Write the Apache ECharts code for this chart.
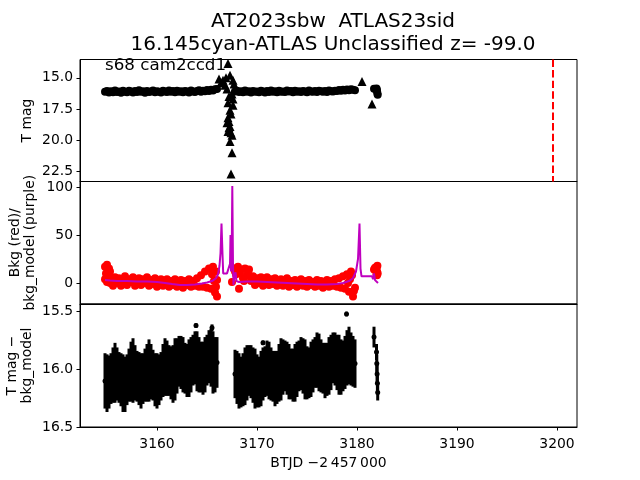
<!DOCTYPE html>
<html><head><meta charset="utf-8">
<script src="https://cdn.jsdelivr.net/npm/echarts@6/dist/echarts.min.js"></script>
<style>html,body{margin:0;padding:0;background:#fff}#c{width:640px;height:480px}</style>
</head><body><div id="c"></div>
<script>
// ---------- data ----------
const seg1Times = [3154.8,3155.0,3155.2,3155.4,3155.6,3155.8,3156.0,3156.2,3156.4,3156.6,3156.8,3157.0,3157.2,3157.4,3157.6,3157.8,3158.0,3158.2,3158.4,3158.6,3158.8,3159.0,3159.2,3159.4,3159.6,3159.8,3160.0,3160.2,3160.4,3160.6,3160.8,3161.0,3161.2,3161.4,3161.6,3161.8,3162.0,3162.2,3162.4,3162.6,3162.8,3163.0,3163.2,3163.4,3163.6,3163.8,3164.0,3164.2,3164.4,3164.6,3164.8,3165.0,3165.2,3165.4,3165.6,3165.8,3166.0];
const seg2Times = [3167.8,3168.0,3168.2,3168.4,3168.6,3168.8,3169.0,3169.2,3169.4,3169.6,3169.8,3170.0,3170.2,3170.4,3170.6,3170.8,3171.0,3171.2,3171.4,3171.6,3171.8,3172.0,3172.2,3172.4,3172.6,3172.8,3173.0,3173.2,3173.4,3173.6,3173.8,3174.0,3174.2,3174.4,3174.6,3174.8,3175.0,3175.2,3175.4,3175.6,3175.8,3176.0,3176.2,3176.4,3176.6,3176.8,3177.0,3177.2,3177.4,3177.6,3177.8,3178.0,3178.2,3178.4,3178.6,3178.8,3179.0,3179.2,3179.4,3179.6,3179.8];
const seg3Times = [3181.7,3181.95,3181.98,3182.01,3182.04,3182.07];

// top panel: T mag (circles)
const magSeg1 = [16.12,16.05,16.18,16.08,16.15,16.02,16.13,16.09,16.2,16.04,16.11,16.16,16.03,16.1,16.17,16.06,16.13,16.0,16.12,16.08,16.19,16.05,16.14,16.1,16.02,16.15,16.07,16.12,16.18,16.04,16.09,16.14,16.01,16.11,16.06,16.16,16.03,16.12,16.08,16.15,16.05,16.1,16.17,16.02,16.09,16.13,16.06,16.0,16.11,16.04,16.08,15.98,16.05,15.95,16.02,15.92,15.9];
const magSeg2 = [16.1,16.04,16.14,16.07,16.16,16.02,16.11,16.08,16.18,16.05,16.12,16.09,16.15,16.03,16.1,16.17,16.06,16.13,16.01,16.11,16.07,16.16,16.04,16.12,16.09,16.14,16.02,16.1,16.06,16.15,16.03,16.11,16.08,16.13,16.05,16.1,16.16,16.02,16.09,16.12,16.06,16.14,16.03,16.08,16.11,16.05,16.13,16.01,16.07,16.1,16.04,16.06,15.98,16.03,15.96,16.01,15.93,15.99,15.91,15.95,16.0];
const magSeg3 = [15.88,15.85,15.95,16.1,16.25,16.35];
// top panel: upper limits (triangles)
const limitTimes = [3166.2,3166.6,3166.8,3167.0,3167.1,3167.1,3167.1,3167.1,3167.2,3167.3,3167.3,3167.3,3167.3,3167.4,3167.5,3167.5,3167.5,3167.6,3167.6,3167.6,3180.5,3181.5,3167.2,3167.4,3167.2,3167.4,3167.0,3166.9,3166.4,3167.7];
const limitMags  = [15.1,15.2,15.6,18.6,13.85,17.0,18.2,19.3,19.0,14.8,17.6,18.9,20.1,22.7,16.3,19.6,21.0,15.2,16.7,17.2,15.3,17.1,16.5,17.9,18.5,19.4,15.9,15.0,15.4,15.5];
const discoveryLimit = 3199.57;

// middle panel: background (red) and background model (purple)
const bkgSeg1 = [17,1,15,6,-3,6,0,5,-3,3,7,-2,4,1,6,-3,2,5,-2,4,0,6,-3,3,-1,5,-4,2,4,-3,1,4,-4,2,-2,4,-4,1,3,-5,2,-2,4,-4,2,-3,5,-4,8,-4,12,-5,15,-6,17,-10,-14];
const bkgSeg2 = [12,16,-6,14,5,15,8,14,2,7,-2,5,0,6,-3,3,6,-2,4,-1,5,-3,2,4,-3,1,5,-4,2,-2,3,-4,1,4,-3,2,-4,3,-2,1,-4,3,-3,2,-5,1,3,-4,2,-3,4,-4,5,-5,7,-6,9,-9,12,-14,-5];
const bkgSeg3 = [14,9,17,12,18,10];
const bkgExtraTimes  = [3154.9,3155.1,3155.0,3154.8,3155.3,3155.3,3165.5,3165.7,3165.9,3165.9,3166.0,3167.5,3167.9,3168.1,3168.3,3168.7,3169.1,3179.1,3179.3,3179.5,3179.7,3181.8,3182.0];
const bkgExtraValues = [10,7,19,4,12,0,9,2,12,-4,3,1,9,17,10,2,9,0,4,8,-8,16,8];
const modelTimes  = [3154.8,3155.3,3156.0,3157.0,3158.0,3159.0,3160.0,3160.8,3161.5,3162.3,3163.0,3163.8,3164.5,3165.0,3165.5,3165.9,3166.1,3166.25,3166.35,3166.45,3166.55,3166.62,3167.0,3167.2,3167.3,3167.35,3167.4,3167.48,3167.53,3167.6,3167.65,3167.75,3167.85,3167.95,3168.2,3169.0,3170.0,3171.0,3172.0,3173.0,3174.0,3175.0,3176.0,3177.0,3178.0,3178.6,3179.2,3179.6,3179.9,3180.1,3180.25,3180.35,3180.45,3181.0,3181.5,3181.6,3181.7,3181.8,3181.95,3182.1];
const modelValues = [3,2.5,2,2,1.5,1.5,1,0,-1,-2,-2,-1.5,-0.5,0.5,2,5,9,18,31,62,30,10,10,10,20,50,12,40,101,20,-2,8,11,2,1,1.5,1.5,1,0.5,0,-0.5,-1,-1.5,-1.5,-1,0,2,5,12,25,62,15,7,7,7,4,10,3,2,0];

// bottom panel: T mag - bkg_model with errors
const diffSeg1 = [16.10,16.12,16.11,16.08,16.05,16.03,16.04,16.07,16.09,16.12,16.13,16.09,16.05,16.02,16.01,16.03,16.06,16.08,16.10,16.08,16.05,16.03,16.01,16.02,16.05,16.09,16.10,16.09,16.06,16.01,15.98,15.99,16.01,16.03,16.04,16.00,15.97,15.93,15.94,15.96,15.99,16.01,15.99,15.96,15.92,15.90,15.93,15.96,15.98,15.99,15.96,15.92,15.89,15.90,15.94,15.96,15.94];
const errSeg1  = [0.24,0.25,0.23,0.22,0.24,0.26,0.23,0.22,0.23,0.25,0.24,0.22,0.23,0.26,0.28,0.24,0.22,0.23,0.24,0.22,0.23,0.25,0.27,0.24,0.22,0.23,0.24,0.22,0.21,0.23,0.25,0.24,0.22,0.23,0.25,0.27,0.24,0.22,0.23,0.24,0.22,0.23,0.25,0.24,0.22,0.23,0.26,0.24,0.22,0.23,0.24,0.22,0.23,0.25,0.27,0.24,0.22];
const diffSeg2 = [16.04,16.07,16.10,16.11,16.09,16.06,16.03,16.01,16.02,16.05,16.08,16.10,16.11,16.08,16.04,16.02,15.99,16.01,16.04,16.06,16.08,16.07,16.03,16.00,15.98,15.97,15.99,16.02,16.04,16.05,16.03,16.00,15.97,15.95,15.97,16.00,16.03,16.03,16.00,15.97,15.94,15.92,15.94,15.97,15.99,16.01,16.00,15.97,15.94,15.90,15.91,15.94,15.96,15.98,15.97,15.94,15.90,15.88,15.91,15.93,15.95];
const errSeg2  = [0.21,0.23,0.24,0.22,0.23,0.25,0.24,0.22,0.23,0.24,0.26,0.23,0.22,0.24,0.23,0.22,0.24,0.25,0.23,0.22,0.24,0.23,0.25,0.27,0.24,0.22,0.23,0.24,0.22,0.23,0.25,0.24,0.22,0.23,0.24,0.26,0.23,0.22,0.24,0.23,0.22,0.24,0.25,0.23,0.22,0.24,0.23,0.25,0.24,0.22,0.23,0.24,0.26,0.24,0.22,0.23,0.24,0.25,0.23,0.22,0.21];
const diffSeg3 = [15.72,15.85,15.95,16.04,16.12,16.2];
const errSeg3  = [0.09,0.07,0.08,0.09,0.08,0.07];
const outlierTimes = [3163.9,3165.5,3170.6,3178.95];
const outlierMags  = [15.62,15.64,15.77,15.52];
const outlierErrs  = [0.02,0.03,0.02,0.02];

const xTicks = [3160,3170,3180,3190,3200];
const magTicks = [15.0,17.5,20.0,22.5];
const bkgTicks = [0,50,100];
const diffTicks = [15.5,16.0,16.5];

// ---------- build ----------
const pair = (ts, vs) => ts.map((t, i) => [t, vs[i]]);
const triple = (ts, vs, es) => ts.map((t, i) => [t, vs[i], es[i]]);
const topData = pair(seg1Times, magSeg1).concat(pair(seg2Times, magSeg2), pair(seg3Times, magSeg3));
const limData = pair(limitTimes, limitMags);
const bkgData = pair(seg1Times, bkgSeg1).concat(pair(seg2Times, bkgSeg2), pair(seg3Times, bkgSeg3), pair(bkgExtraTimes, bkgExtraValues));
const modelData = pair(modelTimes, modelValues);
const diffData = triple(seg1Times, diffSeg1, errSeg1).concat(triple(seg2Times, diffSeg2, errSeg2), triple(seg3Times, diffSeg3, errSeg3), triple(outlierTimes, outlierMags, outlierErrs));

const FONT = 'DejaVu Sans';
const X_MIN = 3152.3, X_MAX = 3202.0;
const grids = [
  {left: 80, width: 497, top: 59.5, height: 122},
  {left: 80, width: 497, top: 181.5, height: 122.5},
  {left: 80, width: 497, top: 304, height: 123}
].map(g => Object.assign(g, {show: true, borderColor: '#000', borderWidth: 1, backgroundColor: 'transparent',
  containLabel: false, outerBoundsMode: 'none'}));

function xAxis(i, bottom) {
  return {
    type: 'value', gridIndex: i, min: X_MIN, max: X_MAX,
    splitLine: {show: false},
    axisLine: {show: true, onZero: false, lineStyle: {color: '#000', width: 1}},
    axisTick: {show: bottom, customValues: xTicks, length: 3.5, lineStyle: {color: '#000'}},
    axisLabel: {show: bottom, customValues: xTicks, color: '#000', fontFamily: FONT, fontSize: 13.9, margin: 10,
      formatter: v => String(v)},
    name: bottom ? 'BTJD \u22122\u2009457\u2009000' : '',
    nameLocation: 'middle', nameGap: 29, nameMoveOverlap: false,
    nameTextStyle: {color: '#000', fontFamily: FONT, fontSize: 13.9}
  };
}
function yAxis(i, opt) {
  return Object.assign({
    type: 'value', gridIndex: i,
    splitLine: {show: false},
    axisLine: {show: true, onZero: false, lineStyle: {color: '#000', width: 1}},
    axisTick: {show: true, customValues: opt.ticks, length: 3.5, lineStyle: {color: '#000'}},
    axisLabel: {customValues: opt.ticks, color: '#000', fontFamily: FONT, fontSize: 13.9, margin: 7,
      formatter: opt.fmt},
    nameLocation: 'middle', nameMoveOverlap: false,
    nameTextStyle: {color: '#000', fontFamily: FONT, fontSize: 13.9, lineHeight: 15}
  }, opt.extra);
}

const option = {
  animation: false,
  backgroundColor: '#fff',
  title: [
    {text: 'AT2023sbw  ATLAS23sid\n16.145cyan-ATLAS Unclassified z= -99.0', left: 328, top: 5, textAlign: 'center',
     textStyle: {fontFamily: FONT, fontSize: 20, fontWeight: 'normal', color: '#000', lineHeight: 23.5}},
    {text: 's68 cam2ccd1', left: 100, top: 52,
     textStyle: {fontFamily: FONT, fontSize: 16.7, fontWeight: 'normal', color: '#000'}}
  ],
  grid: grids,
  xAxis: [xAxis(0, false), xAxis(1, false), xAxis(2, true)],
  yAxis: [
    yAxis(0, {ticks: magTicks, fmt: v => Number(v).toFixed(1), extra: {inverse: true, min: 13.53, max: 23.3, name: 'T mag', nameGap: 45}}),
    yAxis(1, {ticks: bkgTicks, fmt: v => String(v), extra: {min: -21.9, max: 105.8, name: 'Bkg (red)/\nbkg_model (purple)', nameGap: 42}}),
    yAxis(2, {ticks: diffTicks, fmt: v => Number(v).toFixed(1), extra: {inverse: true, min: 15.433, max: 16.5, name: 'T mag \u2212\nbkg_model', nameGap: 45}})
  ],
  series: [
    {type: 'scatter', xAxisIndex: 0, yAxisIndex: 0, data: topData, symbol: 'circle', symbolSize: 8,
     itemStyle: {color: '#000', opacity: 1}, silent: true},
    {type: 'scatter', xAxisIndex: 0, yAxisIndex: 0, data: limData, symbol: 'triangle', symbolSize: 9,
     itemStyle: {color: '#000', opacity: 1}, silent: true,
     markLine: {symbol: 'none', silent: true, label: {show: false},
       lineStyle: {color: '#ff0000', type: [7.4, 3.2], width: 2},
       data: [{xAxis: discoveryLimit}]}},
    {type: 'scatter', xAxisIndex: 1, yAxisIndex: 1, data: bkgData, symbol: 'circle', symbolSize: 8,
     itemStyle: {color: '#ff0000', opacity: 1}, silent: true},
    {type: 'line', xAxisIndex: 1, yAxisIndex: 1, data: modelData, showSymbol: false, symbol: 'none',
     lineStyle: {color: '#bf00bf', width: 2}, silent: true, z: 5},
    {type: 'custom', xAxisIndex: 2, yAxisIndex: 2, data: diffData, clip: true, silent: true,
     encode: {x: 0, y: 1},
     renderItem: function (params, api) {
       const t = api.value(0), m = api.value(1), e = api.value(2);
       const p1 = api.coord([t, m - e]), p2 = api.coord([t, m + e]);
       return {type: 'line', shape: {x1: p1[0], y1: p1[1], x2: p2[0], y2: p2[1]},
               style: {stroke: '#000', lineWidth: 3}};
     }},
    {type: 'scatter', xAxisIndex: 2, yAxisIndex: 2, data: diffData.map(d => [d[0], d[1]]), symbol: 'circle', symbolSize: 5,
     itemStyle: {color: '#000', opacity: 1}, silent: true}
  ]
};
const chart = echarts.init(document.getElementById('c'), null, {renderer: 'canvas'});
chart.setOption(option);
</script></body></html>
